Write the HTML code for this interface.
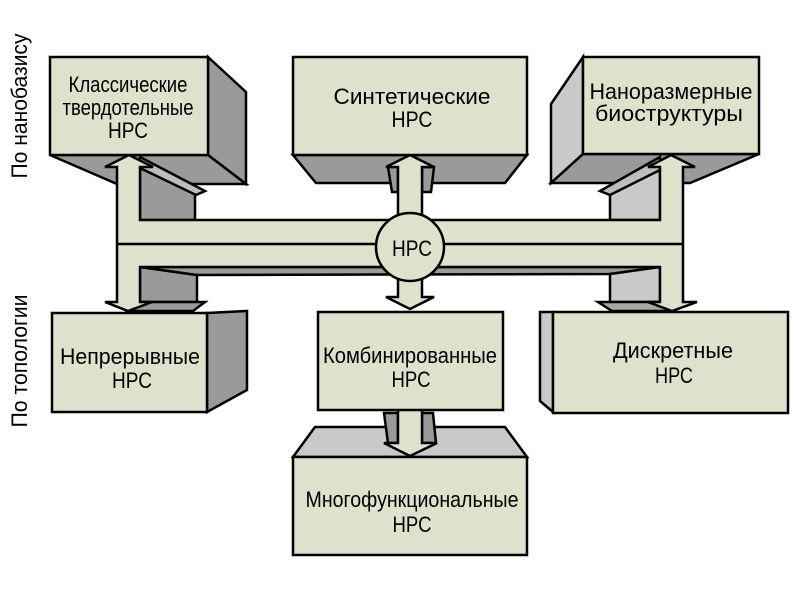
<!DOCTYPE html>
<html><head><meta charset="utf-8">
<style>
html,body{margin:0;padding:0;background:#fff;}
svg{display:block;}
text{font-family:"Liberation Sans","DejaVu Sans",sans-serif;fill:#000;}
</style></head>
<body>
<svg width="800" height="600" viewBox="0 0 800 600" xmlns="http://www.w3.org/2000/svg">
<rect x="0" y="0" width="800" height="600" fill="#fff"/>
<g stroke="#000" stroke-width="2.5" stroke-linejoin="miter">
  <!-- top-left box depth -->
  <polygon points="208,57 246,92 246,184 208,155" fill="#9a9a9a"/>
  <polygon points="50,155 208,155 246,184 117,184" fill="#9a9a9a"/>
  <!-- left arrow depth -->
  <polygon points="140,168 195,193 195,220 140,220" fill="#9a9a9a"/>
  <polygon points="140,157 205,191 196,195 140,168" fill="#bdbdbd"/>
  <polygon points="140,267 197,275 197,302 140,302" fill="#9a9a9a"/>
  <polygon points="140,302 205,302 193,311 128,311" fill="#9a9a9a"/>
  <!-- bus underside -->
  <polygon points="140,267 660,267 610,274 197,275" fill="#9a9a9a"/>
  <!-- top-right box depth -->
  <polygon points="583,57 551,104 551,183 583,154" fill="#c9c9c9"/>
  <polygon points="583,154 759,154 690,183 551,183" fill="#9a9a9a"/>
  <!-- right arrow depth -->
  <polygon points="610,193 660,170 660,220 610,220" fill="#c9c9c9"/>
  <polygon points="660,157 600,191 610,195 660,170" fill="#bdbdbd"/>
  <polygon points="610,274 660,267 660,302 610,302" fill="#c9c9c9"/>
  <polygon points="598,302 660,302 672,311 612,311" fill="#a8a8a8"/>
  <!-- synthetic box depth -->
  <polygon points="293,155 527,155 505,183 316,183" fill="#9a9a9a"/>
  <polygon points="388,167 398,167 398,192 392,192" fill="#9a9a9a"/>
  <polygon points="422,167 434,167 431,192 422,192" fill="#9a9a9a"/>

  <!-- bus front -->
  <polygon fill="#dfe1cc" points="129,155 153,167 140,167 140,220 660,220 660,167 648,167 671,155 695,167 683,167 683,302 697,302 672,311 648,302 660,302 660,267 140,267 140,302 152,302 128,311 105,302 117,302 117,167 105,167"/>
  <line x1="117" y1="244" x2="683" y2="244"/>

  <!-- middle arrows -->
  <polygon fill="#dfe1cc" points="398,222 398,167 386,167 410,155 434,167 422,167 422,222"/>
  <polygon fill="#dfe1cc" points="398,272 398,297 386,297 410,309 434,297 422,297 422,272"/>
  <circle cx="410" cy="247" r="34" fill="#dfe1cc"/>

  <!-- front faces top -->
  <rect x="50" y="57" width="158" height="98" fill="#dfe1cc"/>
  <rect x="293" y="57" width="234" height="98" fill="#dfe1cc"/>
  <rect x="583" y="57" width="176" height="97" fill="#dfe1cc"/>

  <!-- bottom row -->
  <polygon points="207,313 247,311 247,390 207,412" fill="#9a9a9a"/>
  <rect x="52" y="313" width="155" height="99" fill="#dfe1cc"/>
  <polygon points="540,312 553,312 553,412 540,401" fill="#c9c9c9"/>
  <rect x="553" y="312" width="235" height="101" fill="#dfe1cc"/>

  <!-- multi box top face -->
  <polygon points="293,457 315,427 505,427 527,457" fill="#c9c9c9"/>
  <!-- combined -> multi arrow -->
  <polygon points="384,413 398,413 398,443 388,443" fill="#9a9a9a"/>
  <polygon points="422,413 433,413 436,443 422,443" fill="#9a9a9a"/>
  <polygon fill="#dfe1cc" points="398,409 398,443 384,443 410,456 437,443 422,443 422,409"/>
  <rect x="318" y="312" width="185" height="98" fill="#dfe1cc"/>
  <rect x="293" y="457" width="234" height="98" fill="#dfe1cc"/>
</g>

<!-- labels -->
<g font-size="22" text-anchor="middle">
  <text x="128" y="92" textLength="119" lengthAdjust="spacingAndGlyphs">Классические</text>
  <text x="128" y="115" textLength="131" lengthAdjust="spacingAndGlyphs">твердотельные</text>
  <text x="128" y="138" textLength="40" lengthAdjust="spacingAndGlyphs">НРС</text>

  <text x="412" y="104" textLength="157" lengthAdjust="spacingAndGlyphs">Синтетические</text>
  <text x="412" y="127" textLength="41" lengthAdjust="spacingAndGlyphs">НРС</text>

  <text x="671" y="99" textLength="163" lengthAdjust="spacingAndGlyphs">Наноразмерные</text>
  <text x="669" y="121" textLength="148" lengthAdjust="spacingAndGlyphs">биоструктуры</text>

  <text x="412" y="256" textLength="40" lengthAdjust="spacingAndGlyphs">НРС</text>

  <text x="130" y="364" textLength="140" lengthAdjust="spacingAndGlyphs">Непрерывные</text>
  <text x="132" y="388" textLength="40" lengthAdjust="spacingAndGlyphs">НРС</text>

  <text x="410" y="363" textLength="174" lengthAdjust="spacingAndGlyphs">Комбинированные</text>
  <text x="411" y="387" textLength="39" lengthAdjust="spacingAndGlyphs">НРС</text>

  <text x="673" y="358" textLength="120" lengthAdjust="spacingAndGlyphs">Дискретные</text>
  <text x="674" y="383" textLength="38" lengthAdjust="spacingAndGlyphs">НРС</text>

  <text x="412" y="507" textLength="213" lengthAdjust="spacingAndGlyphs">Многофункциональные</text>
  <text x="412" y="532" textLength="39" lengthAdjust="spacingAndGlyphs">НРС</text>

  <text transform="translate(27,106) rotate(-90)" textLength="145" lengthAdjust="spacingAndGlyphs">По нанобазису</text>
  <text transform="translate(27,361) rotate(-90)" textLength="133" lengthAdjust="spacingAndGlyphs">По топологии</text>
</g>
</svg>
</body></html>
